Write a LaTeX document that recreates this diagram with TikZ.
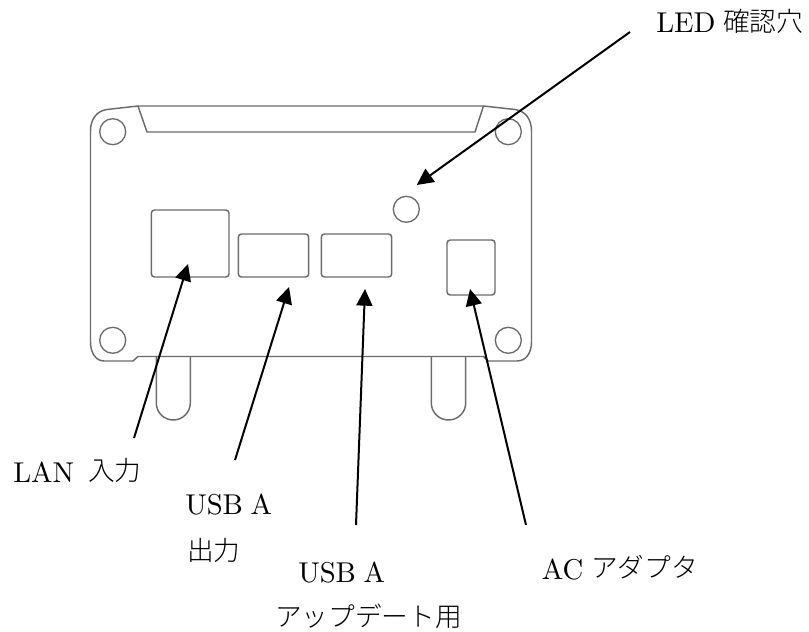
\documentclass[tikz,border=0pt]{standalone}
\usepackage{fontspec}
\usetikzlibrary{arrows.meta}
\newfontfamily\cjk{Noto Sans CJK JP}[UprightFont=* Light]
\newfontfamily\ltn{lmroman10-regular.otf}
\tikzset{
  outline/.style={draw=black!58,line width=1.1pt,line join=round},
  portbox/.style={outline,rounded corners=2.4pt},
  hole/.style={outline,line width=1pt},
  callout/.style={draw=black,line width=1.5pt,-{Triangle[length=12.5pt,width=12pt]}},
  lbl/.style={anchor=base west,inner sep=0pt,font=\fontsize{21.5}{25}\selectfont\ltn,text=black},
  jlbl/.style={anchor=base west,inner sep=0pt,font=\fontsize{20}{24}\selectfont\cjk,text=black},
}
\begin{document}
\begin{tikzpicture}[x=0.75pt,y=-0.75pt]
\useasboundingbox (0,0) rectangle (809,631);
% body
\draw[outline] (90.5,131) .. controls (90.5,120) and (96,111) .. (107,109.5) -- (138,106) -- (483.5,106) -- (515,109.5)
  .. controls (526,111) and (531.5,120) .. (531.5,131) -- (531.5,342)
  .. controls (531.5,353) and (526,361) .. (517,361) -- (488,361) -- (483.5,356.5) -- (138,356.5) -- (133,361) -- (104,361)
  .. controls (96,361) and (90.5,353) .. (90.5,342) -- cycle;
\draw[outline] (138,106) -- (147,132) -- (475,132) -- (483.5,106);
% feet
\draw[outline] (156.3,356.5) -- (156.3,403) .. controls (156.3,412.4) and (164,420) .. (173.3,420) .. controls (182.6,420) and (190.3,412.4) .. (190.3,403) -- (190.3,356.5);
\draw[outline] (431.3,356.5) -- (431.3,403) .. controls (431.3,412.4) and (439,420) .. (448.5,420) .. controls (458,420) and (465.7,412.4) .. (465.7,403) -- (465.7,356.5);
% holes
\draw[hole] (112.7,131.7) circle[radius=13];
\draw[hole] (508.3,131.7) circle[radius=13];
\draw[hole] (112.7,340.3) circle[radius=13];
\draw[hole] (508.3,340.3) circle[radius=13];
\draw[hole] (406.3,209.3) circle[radius=13];
% ports
\draw[portbox] (151.3,210) rectangle (229,277);
\draw[portbox] (238.3,234) rectangle (308.7,277);
\draw[portbox] (321.3,234) rectangle (391.7,277);
\draw[portbox] (447,240) rectangle (495,295);
% labels
\node[lbl] (lan) at (13,482) {LAN};
\node[jlbl] (lanj) at (88,480) {入力};
\node[lbl] (usbo) at (185,514) {USB\hspace{0.27em}A};
\node[jlbl] (usboj) at (187,560) {出力};
\node[lbl] (usbu) at (298,582) {USB\hspace{0.27em}A};
\node[jlbl] (usbuj) at (275,626) {アップデート用};
\node[lbl] (ac) at (541.7,579) {AC};
\node[jlbl] (acj) at (591,577) {アダプタ};
\node[lbl] (led) at (656,33) {LED};
\node[jlbl] (ledj) at (723,32) {確認穴};
% connector ends
\coordinate (ledtail) at (630,32);
\coordinate (ledtip) at (416.7,185);
\coordinate (lantail) at (134,438);
\coordinate (lantip) at (188,264);
\coordinate (otail) at (235,460);
\coordinate (otip) at (289,287);
\coordinate (utail) at (356,525);
\coordinate (utip) at (365,289);
\coordinate (actail) at (526,525);
\coordinate (actip) at (470,289);
\draw[callout] (ledtail) -- (ledtip);
\draw[callout] (lantail) -- (lantip);
\draw[callout] (otail) -- (otip);
\draw[callout] (utail) -- (utip);
\draw[callout] (actail) -- (actip);
\end{tikzpicture}
\end{document}
